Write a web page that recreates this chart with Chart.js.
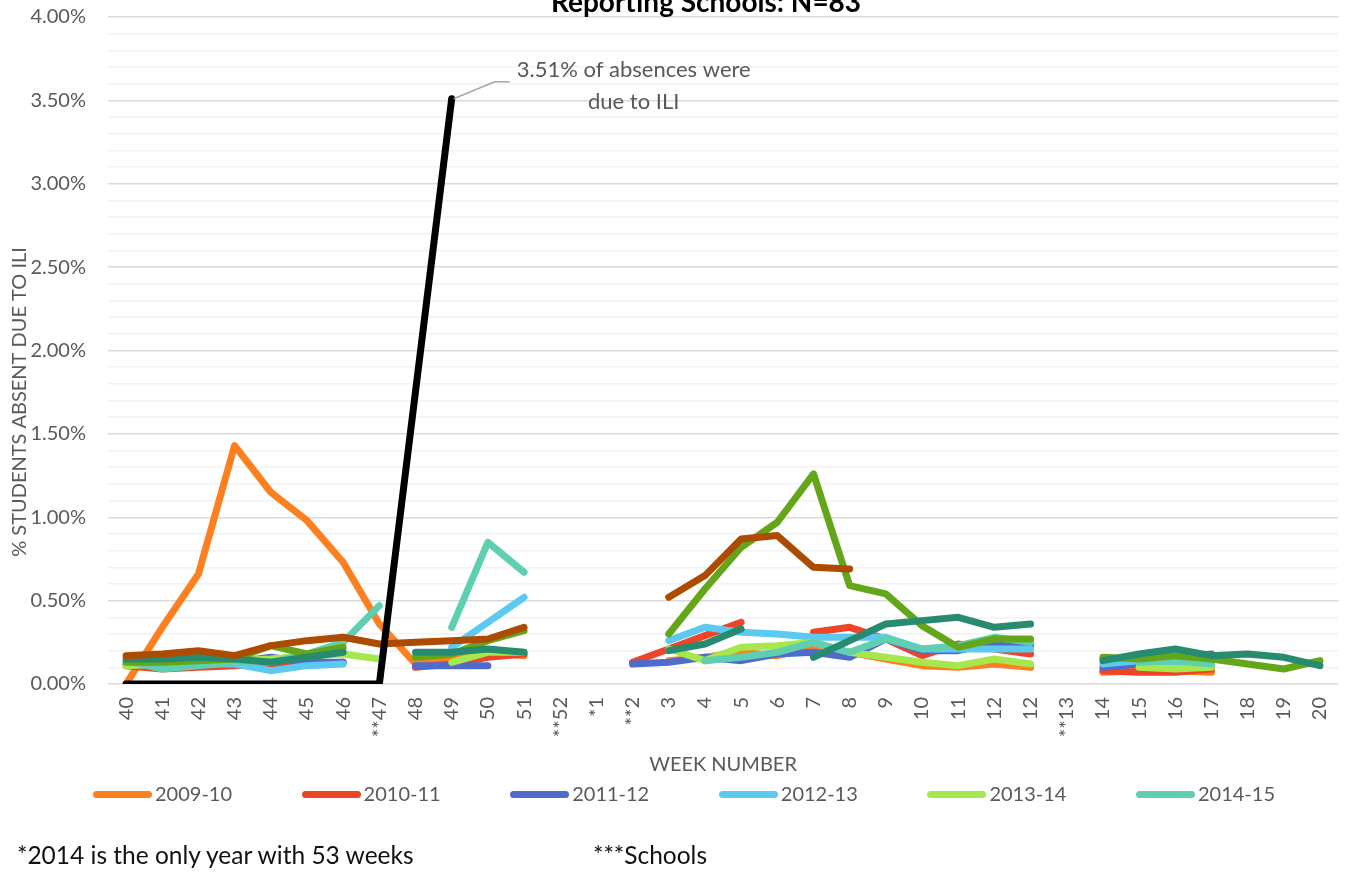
<!DOCTYPE html>
<html>
<head>
<meta charset="utf-8">
<script src="https://cdn.jsdelivr.net/npm/chart.js@4.4.1/dist/chart.umd.min.js"></script>
<style>
  html, body { margin: 0; padding: 0; background: #fff; }
  #wrap { position: relative; width: 1357px; height: 884px; overflow: hidden; }
  .note { position: absolute; font-family: Lato, sans-serif; font-size: 24.5px; line-height: 1.2; color: #111; white-space: nowrap; }
  #legend { position: absolute; left: 93px; top: 781px; height: 24px; white-space: nowrap; font-family: Lato, sans-serif; font-size: 20px; line-height: 24px; color: #595959; }
  #legend .item { display: inline-block; width: 208.6px; }
  #legend .sw { display: inline-block; width: 59px; height: 7px; border-radius: 3.5px; vertical-align: middle; margin-right: 3px; position: relative; top: -1px; }
</style>
</head>
<body>
<div id="wrap">
  <canvas id="ili" width="1357" height="884"></canvas>
  <div id="legend"></div>
  <div class="note" style="left:17px; top:840px;">*2014 is the only year with 53 weeks</div>
  <div class="note" style="left:593px; top:840px;">***Schools</div>
</div>
<script>
const _ = null;

const weeks = ["40", "41", "42", "43", "44", "45", "46", "**47", "48", "49", "50", "51", "**52", "*1", "**2",
    "3", "4", "5", "6", "7", "8", "9", "10", "11", "12", "12", "**13", "14", "15", "16", "17", "18", "19", "20"];

// % of students absent due to ILI, by season
const s2009 = [0.00, 0.34, 0.66, 1.43, 1.15, 0.98, 0.73, 0.36, 0.12, 0.15, 0.19, 0.17, _, _, _,
    0.14, 0.16, 0.19, 0.17, 0.22, 0.19, 0.15, 0.11, 0.10, 0.12, 0.10, _, 0.07, 0.08, 0.08, 0.07, _, _, _];
const s2010 = [0.11, 0.09, 0.10, 0.11, 0.12, 0.12, 0.13, _, 0.10, 0.12, 0.16, 0.18, _, _, 0.13,
    0.21, 0.29, 0.37, _, 0.31, 0.34, 0.27, 0.17, 0.24, 0.21, 0.18, _, 0.08, 0.07, 0.07, 0.09, _, _, _];
const s2011 = [0.12, 0.12, 0.13, 0.13, 0.16, 0.13, 0.13, _, 0.11, 0.11, 0.11, _, _, _, 0.12,
    0.13, 0.16, 0.14, 0.18, 0.19, 0.16, 0.27, 0.20, 0.20, 0.25, 0.23, _, 0.10, 0.12, 0.15, 0.18, _, _, _];
const s2012 = [0.12, 0.11, 0.12, 0.12, 0.08, 0.11, 0.12, _, _, 0.22, 0.37, 0.52, _, _, _,
    0.26, 0.34, 0.31, 0.30, 0.28, 0.28, 0.28, 0.21, 0.21, 0.21, 0.21, _, 0.12, 0.14, 0.13, 0.12, _, _, _];
const s2013 = [0.11, 0.12, 0.13, 0.14, 0.15, 0.17, 0.18, 0.15, _, 0.13, 0.19, 0.19, _, _, _,
    0.21, 0.14, 0.22, 0.23, 0.25, 0.19, 0.16, 0.13, 0.11, 0.15, 0.12, _, _, 0.10, 0.09, 0.10, _, _, _];
const s2014 = [0.14, 0.09, 0.11, 0.13, 0.13, 0.18, 0.25, 0.47, _, 0.34, 0.85, 0.67, _, _, _,
    _, 0.14, 0.16, 0.19, 0.25, 0.19, 0.27, 0.21, 0.23, 0.28, 0.25, _, _, 0.13, 0.14, 0.12, _, _, _];
const sGreen = [0.13, 0.13, 0.14, 0.15, 0.23, 0.18, 0.22, _, 0.16, 0.18, 0.26, 0.32, _, _, _,
    0.30, 0.57, 0.82, 0.97, 1.26, 0.59, 0.54, 0.35, 0.22, 0.27, 0.27, _, 0.16, 0.15, 0.17, 0.15, 0.12, 0.09, 0.14];
const sDarkTeal = [0.15, 0.15, 0.16, 0.15, 0.13, 0.16, 0.19, _, 0.19, 0.19, 0.21, 0.19, _, _, _,
    0.20, 0.24, 0.33, _, 0.16, 0.26, 0.36, 0.38, 0.40, 0.34, 0.36, _, 0.14, 0.18, 0.21, 0.17, 0.18, 0.16, 0.11];
const sBrown = [0.17, 0.18, 0.20, 0.17, 0.23, 0.26, 0.28, 0.24, 0.25, 0.26, 0.27, 0.34, _, _, _,
    0.52, 0.65, 0.87, 0.89, 0.70, 0.69, _, _, _, _, _, _, _, _, _, _, _, _, _];
const sBlack = [0, 0, 0, 0, 0, 0, 0, 0, _, 3.51, _, _, _, _, _,
    _, _, _, _, _, _, _, _, _, _, _, _, _, _, _, _, _, _, _];

const seasons = ["2009-10", "2010-11", "2011-12", "2012-13", "2013-14", "2014-15"];
const colors = ["#FD7F20", "#EE4428", "#4F6BCB", "#5CC9F1", "#A6E74D", "#5ECFB1"];

const axisGray = "#595959";
const FONT = "Lato, 'Open Sans', sans-serif";

const makeLine = (label, data, color, order, extra) => Object.assign({
    label: label,
    data: data,
    borderColor: color,
    backgroundColor: color,
    borderWidth: 7,
    pointRadius: 0,
    pointHoverRadius: 0,
    tension: 0,
    fill: false,
    spanGaps: false,
    borderCapStyle: "round",
    borderJoinStyle: "round",
    order: order
}, extra || {});

const datasets = [
    makeLine(seasons[0], s2009, colors[0], 10),
    makeLine(seasons[1], s2010, colors[1], 9),
    makeLine(seasons[2], s2011, colors[2], 8),
    makeLine(seasons[3], s2012, colors[3], 7),
    makeLine(seasons[4], s2013, colors[4], 6),
    makeLine(seasons[5], s2014, colors[5], 5),
    makeLine("green", sGreen, "#64A619", 4),
    makeLine("darkteal", sDarkTeal, "#278B6F", 3),
    makeLine("brown", sBrown, "#AD4B00", 2),
    makeLine("schools", sBlack, "#000000", 1, {spanGaps: true})
];

// legend built in html from the chart's own datasets (only the named seasons)
const htmlLegend = {
    id: "htmlLegend",
    afterUpdate(chart) {
        const box = document.getElementById("legend");
        box.innerHTML = "";
        chart.data.datasets.forEach((ds, i) => {
            if (i >= seasons.length) return;
            const item = document.createElement("span");
            item.className = "item";
            const sw = document.createElement("span");
            sw.className = "sw";
            sw.style.background = ds.borderColor;
            item.appendChild(sw);
            item.appendChild(document.createTextNode(ds.label));
            box.appendChild(item);
        });
    }
};

// extra text: chart title (cut at top), y axis title, callout
const extrasPlugin = {
    id: "extras",
    afterDraw(chart) {
        const ctx = chart.ctx;
        const xs = chart.scales.x;
        const ys = chart.scales.y;
        ctx.save();

        ctx.fillStyle = "#000";
        ctx.font = "bold 28px " + FONT;
        ctx.textAlign = "center";
        ctx.textBaseline = "alphabetic";
        ctx.fillText("Reporting Schools: N=83", 706, 12);

        ctx.fillStyle = axisGray;
        ctx.font = "20px " + FONT;
        ctx.save();
        ctx.translate(20, 402);
        ctx.rotate(-Math.PI / 2);
        ctx.textBaseline = "middle";
        ctx.fillText("% STUDENTS ABSENT DUE TO ILI", 0, 0);
        ctx.restore();

        // callout for the peak
        const px = xs.getPixelForValue(9);
        const py = ys.getPixelForValue(3.51);
        ctx.strokeStyle = "#A6A6A6";
        ctx.lineWidth = 1.5;
        ctx.beginPath();
        ctx.moveTo(px + 2, py);
        ctx.lineTo(px + 43, py - 17);
        ctx.lineTo(px + 58, py - 17);
        ctx.stroke();

        ctx.fillStyle = axisGray;
        ctx.font = "22px " + FONT;
        ctx.textAlign = "center";
        ctx.textBaseline = "middle";
        ctx.fillText("3.51% of absences were", px + 182, py - 29);
        ctx.fillText("due to ILI", px + 182, py + 3);
        ctx.restore();
    }
};

const ctx = document.getElementById("ili").getContext("2d");

const chart = new Chart(ctx, {
    type: "line",
    data: {
        labels: weeks,
        datasets: datasets
    },
    plugins: [extrasPlugin, htmlLegend],
    options: {
        responsive: false,
        animation: false,
        devicePixelRatio: 1,
        layout: {
            padding: {left: 18, right: 1, top: 17, bottom: 107}
        },
        scales: {
            x: {
                type: "category",
                offset: true,
                grid: {display: false, drawTicks: false},
                border: {display: false},
                ticks: {
                    autoSkip: false,
                    maxRotation: 90,
                    minRotation: 90,
                    padding: 13,
                    color: axisGray,
                    font: {family: FONT, size: 20}
                },
                title: {
                    display: true,
                    text: "WEEK NUMBER",
                    color: axisGray,
                    font: {family: FONT, size: 20},
                    padding: {top: 0, bottom: 0}
                },
                afterFit: (scale) => { scale.height = 93; }
            },
            y: {
                min: 0,
                max: 4,
                grid: {
                    drawTicks: false,
                    color: (c) => {
                        const v = c.tick ? c.tick.value : 0;
                        return Math.abs(v * 2 - Math.round(v * 2)) < 1e-6 ? "#D9D9D9" : "#F2F2F2";
                    },
                    lineWidth: 1.5
                },
                border: {display: false},
                ticks: {
                    stepSize: 0.1,
                    autoSkip: false,
                    padding: 22,
                    color: axisGray,
                    font: {family: FONT, size: 20},
                    callback: (v) => Math.abs(v * 2 - Math.round(v * 2)) < 1e-6 ? Number(v).toFixed(2) + "%" : ""
                },
                afterFit: (scale) => {
                    scale.width = 90;
                    scale.paddingTop = 0;
                    scale.paddingBottom = 0;
                }
            }
        },
        plugins: {
            title: {display: false},
            tooltip: {enabled: false},
            legend: {display: false}
        }
    }
});
</script>
</body>
</html>
